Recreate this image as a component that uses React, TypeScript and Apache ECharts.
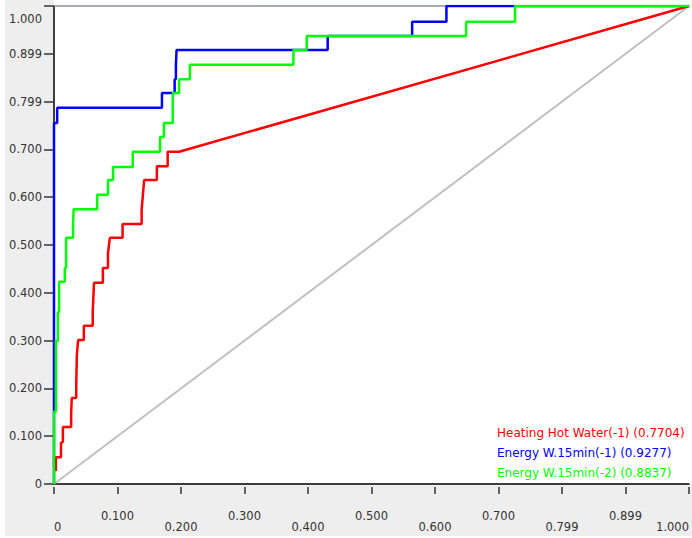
import React, { useEffect, useRef } from "react";
import * as echarts from "echarts";

const tickLabels = ["0", "0.100", "0.200", "0.300", "0.400", "0.500", "0.600", "0.700", "0.799", "0.899", "1.000"];

const seriesNames = [
  "Heating Hot Water(-1) (0.7704)",
  "Energy W.15min(-1) (0.9277)",
  "Energy W.15min(-2) (0.8837)",
];
const seriesColors = ["#ff0000", "#0000ff", "#00ff00"];

const diagonal: number[][] = [[0, 0], [1, 1]];

const heatingHotWater: number[][] = [
  [0.003, 0.027], [0.003, 0.056], [0.011, 0.056], [0.011, 0.086], [0.014, 0.088], [0.014, 0.119],
  [0.027, 0.119], [0.027, 0.149], [0.028, 0.149], [0.028, 0.18], [0.035, 0.18], [0.035, 0.207],
  [0.036, 0.27], [0.038, 0.301], [0.047, 0.301], [0.047, 0.331], [0.061, 0.331], [0.061, 0.36],
  [0.063, 0.421], [0.077, 0.421], [0.077, 0.452], [0.085, 0.452], [0.085, 0.483], [0.088, 0.515],
  [0.108, 0.515], [0.108, 0.544], [0.138, 0.544], [0.138, 0.573], [0.142, 0.636], [0.162, 0.636],
  [0.162, 0.665], [0.179, 0.665], [0.179, 0.695], [0.197, 0.695], [1, 1],
];

const energy15min1: number[][] = [
  [0, 0], [0, 0.755], [0.005, 0.755], [0.005, 0.787], [0.17, 0.787], [0.17, 0.818], [0.19, 0.818],
  [0.19, 0.847], [0.192, 0.847], [0.192, 0.877], [0.193, 0.877], [0.193, 0.908], [0.431, 0.908],
  [0.431, 0.937], [0.564, 0.937], [0.564, 0.967], [0.618, 0.967], [0.618, 1], [1, 1],
];

const energy15min2: number[][] = [
  [0, 0], [0, 0.151], [0.003, 0.151], [0.003, 0.299], [0.006, 0.299], [0.006, 0.36], [0.008, 0.36],
  [0.008, 0.423], [0.017, 0.423], [0.017, 0.452], [0.019, 0.452], [0.019, 0.515], [0.03, 0.515],
  [0.03, 0.544], [0.031, 0.575], [0.068, 0.575], [0.068, 0.605], [0.085, 0.605], [0.085, 0.636],
  [0.093, 0.636], [0.093, 0.663], [0.124, 0.663], [0.124, 0.695], [0.167, 0.695], [0.167, 0.726],
  [0.173, 0.726], [0.173, 0.755], [0.187, 0.755], [0.187, 0.818], [0.197, 0.818], [0.197, 0.847],
  [0.214, 0.847], [0.214, 0.877], [0.377, 0.877], [0.377, 0.908], [0.398, 0.908], [0.398, 0.937],
  [0.649, 0.937], [0.649, 0.967], [0.726, 0.967], [0.726, 1], [1, 1],
];

const FONT = "DejaVu Sans";

export default function App() {
  const ref = useRef<HTMLDivElement>(null);
  useEffect(() => {
    document.body.style.margin = "0";
    const chart = echarts.init(ref.current!, null, { renderer: "svg" });
    const lbl = (v: number) => tickLabels[Math.round(v * 10)];
    const curves = [heatingHotWater, energy15min1, energy15min2];
    chart.setOption({
      animation: false,
      backgroundColor: "#ffffff",
      grid: { left: 54, top: 6, width: 636, height: 478, show: false },
      graphic: [
        { type: "rect", z: -10, shape: { x: 5, y: 0, width: 49, height: 536 }, style: { fill: "#eeeeee" } },
        { type: "rect", z: -10, shape: { x: 5, y: 484, width: 687, height: 52 }, style: { fill: "#eeeeee" } },
        ...seriesNames.map((n, i) => ({
          type: "text",
          left: 497,
          top: 427 + i * 20,
          style: { text: n, fill: seriesColors[i], font: `12px '${FONT}'` },
        })),
      ],
      xAxis: [
        {
          type: "value", min: 0, max: 1, interval: 0.1, position: "bottom",
          axisLine: { show: true, lineStyle: { color: "#000", width: 1.5 } },
          axisTick: { show: false },
          splitLine: { show: false },
          axisLabel: {
            margin: 26,
            fontFamily: FONT, fontSize: 11.5, color: "#333", lineHeight: 11,
            alignMinLabel: "left", alignMaxLabel: "right",
            formatter: (v: number) => {
              const i = Math.round(v * 10);
              return i % 2 === 1 ? tickLabels[i] : "\n" + tickLabels[i];
            },
          },
        },
        {
          type: "value", min: 0, max: 1, interval: 0.1, position: "bottom", offset: 3,
          axisLine: { show: false },
          axisTick: { show: true, length: 7, lineStyle: { color: "#333", width: 1.5 } },
          axisLabel: { show: false },
          splitLine: { show: false },
        },
        {
          type: "value", min: 0, max: 1, position: "top",
          axisLine: { show: true, lineStyle: { color: "#8a8f99", width: 1.5 } },
          axisTick: { show: false }, axisLabel: { show: false }, splitLine: { show: false },
        },
      ],
      yAxis: {
        type: "value", min: 0, max: 1, interval: 0.1,
        axisLine: { show: true, lineStyle: { color: "#000", width: 1.5 } },
        axisTick: { show: true, length: 10, lineStyle: { color: "#333", width: 1.5 } },
        splitLine: { show: false },
        axisLabel: {
          margin: 12, fontFamily: FONT, fontSize: 11.5, color: "#333",
          verticalAlignMaxLabel: "top",
          formatter: (v: number) => (Math.round(v * 10) === 10 ? "{t|" + lbl(v) + "}" : lbl(v)),
          rich: { t: { fontFamily: FONT, fontSize: 11.5, color: "#333", padding: [7, 0, 0, 0] } },
        },
      },
      series: [
        {
          type: "line", data: diagonal, showSymbol: false, silent: true,
          lineStyle: { color: "#c0c0c0", width: 2 },
        },
        ...curves.map((d, i) => ({
          type: "line", name: seriesNames[i], data: d, showSymbol: false,
          lineStyle: { color: seriesColors[i], width: 2.5 },
        })),
      ],
    });
    return () => chart.dispose();
  }, []);
  return <div ref={ref} style={{ width: 692, height: 538 }} />;
}
